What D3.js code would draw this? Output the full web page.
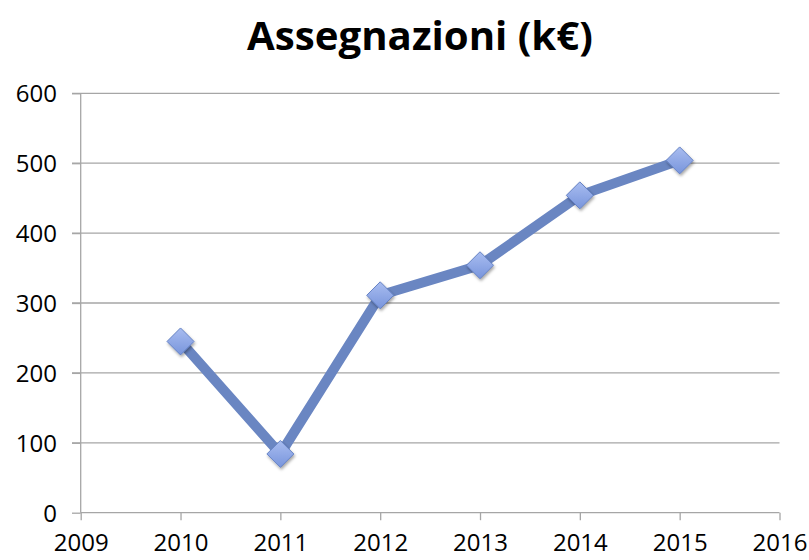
<!DOCTYPE html>
<html><head><meta charset="utf-8">
<script src="https://cdn.jsdelivr.net/npm/d3@7"></script>
<style>html,body{margin:0;padding:0;background:#fff;}</style>
</head><body>
<svg id="c" width="809" height="560"></svg>
<script>
const title = "Assegnazioni (k€)";
const years = [2010, 2011, 2012, 2013, 2014, 2015];
const values = [245, 84, 311, 354, 454, 504];
const xTicks = [2009, 2010, 2011, 2012, 2013, 2014, 2015, 2016];
const yTicks = [0, 100, 200, 300, 400, 500, 600];

const svg = d3.select("#c");
const font = "'Open Sans', 'Liberation Sans', sans-serif";
const x = d3.scaleLinear().domain([2009, 2016]).range([80.7, 779.5]);
const y = d3.scaleLinear().domain([0, 600]).range([512.7, 93.3]);

const defs = svg.append("defs");
const grad = defs.append("linearGradient").attr("id", "mg").attr("x1", 0).attr("y1", 0).attr("x2", 0).attr("y2", 1);
grad.append("stop").attr("offset", "0%").attr("stop-color", "#a9bdf0");
grad.append("stop").attr("offset", "100%").attr("stop-color", "#7895dc");
const f = defs.append("filter").attr("id", "sh").attr("x", "-50%").attr("y", "-50%").attr("width", "200%").attr("height", "200%");
f.append("feDropShadow").attr("dx", 1).attr("dy", 2).attr("stdDeviation", 1.5).attr("flood-color", "#000").attr("flood-opacity", 0.35);

// gridlines
svg.append("g").selectAll("line").data(yTicks.filter(d => d > 0)).join("line")
  .attr("x1", 72).attr("x2", 779.5)
  .attr("y1", d => y(d)).attr("y2", d => y(d))
  .attr("stroke", "#a6a6a6").attr("stroke-width", 1.3);

// y axis
const ya = svg.append("g").attr("transform", `translate(${x(2009)},0)`)
  .call(d3.axisLeft(y).tickValues(yTicks).tickSize(8.7).tickPadding(15).tickFormat(d3.format("d")));
ya.select(".domain").attr("stroke", "#a6a6a6").attr("stroke-width", 1.3).attr("d", `M0,${y(600)}V${y(0)}`);
ya.selectAll(".tick line").attr("stroke", "#a6a6a6").attr("stroke-width", 1.3);
ya.selectAll(".tick text").attr("font-family", font).attr("font-size", 24).attr("fill", "#000").attr("dy", "0.36em");

// x axis
const xa = svg.append("g").attr("transform", `translate(0,${y(0)})`)
  .call(d3.axisBottom(x).tickValues(xTicks).tickSize(7.5).tickPadding(14).tickFormat(d3.format("d")));
xa.select(".domain").attr("stroke", "#a6a6a6").attr("stroke-width", 1.3).attr("d", `M${x(2009)},0H${x(2016)}`);
xa.selectAll(".tick line").attr("stroke", "#a6a6a6").attr("stroke-width", 1.3);
xa.selectAll(".tick text").attr("font-family", font).attr("font-size", 24).attr("fill", "#000");

// line
const data = years.map((yr, i) => ({yr, v: values[i]}));
svg.append("path").datum(data)
  .attr("d", d3.line().x(d => x(d.yr)).y(d => y(d.v)))
  .attr("fill", "none").attr("stroke", "#6a86c2").attr("stroke-width", 10).attr("stroke-linejoin", "round");

// markers
const r = 13.5;
svg.append("g").selectAll("path").data(data).join("path")
  .attr("transform", d => `translate(${x(d.yr)},${y(d.v)})`)
  .attr("d", `M0,${-r}L${r},0L0,${r}L${-r},0Z`)
  .attr("fill", "url(#mg)").attr("stroke", "#6582c4").attr("stroke-width", 1)
  .attr("filter", "url(#sh)");

// title
const t = svg.append("text").attr("x", 420).attr("y", 50).attr("text-anchor", "middle")
  .attr("font-family", font).attr("font-weight", "bold").attr("font-size", 38).attr("fill", "#000").text(title);
const w = t.node().getComputedTextLength();
t.attr("font-size", 38 * 346 / w);
</script>
</body></html>
